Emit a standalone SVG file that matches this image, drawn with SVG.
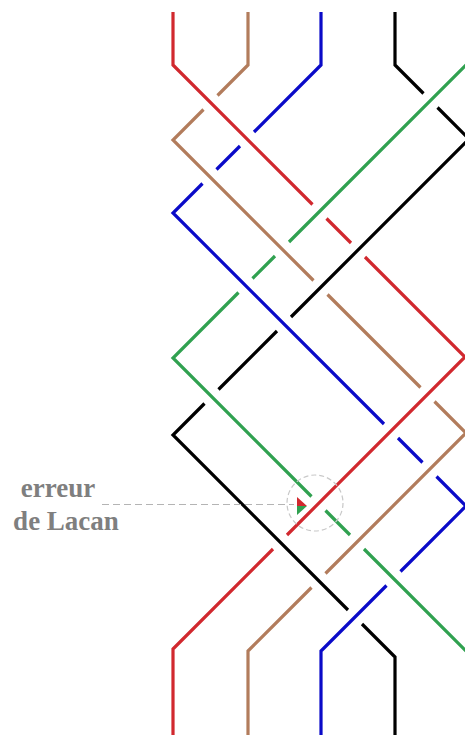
<svg xmlns="http://www.w3.org/2000/svg" width="465" height="735" viewBox="0 0 465 735">
  <style>
    .s { fill: none; stroke-width: 3.2; stroke-linecap: butt; stroke-linejoin: miter; }
    .red { stroke: #d1282e; }
    .brown { stroke: #b27c5c; }
    .blue { stroke: #0a0ac8; }
    .black { stroke: #000000; }
    .green { stroke: #30a150; }
    .lbl { font-family: "Liberation Serif", "Times New Roman", serif; font-weight: bold; font-size: 27px; fill: #7f7f7f; text-anchor: middle; }
    .dash { fill: none; stroke: #b4b4b4; stroke-width: 1.2; stroke-dasharray: 7 4; }
    .ring { fill: none; stroke: #c8c8c8; stroke-width: 1.2; stroke-dasharray: 5 3; }
  </style>
  <g id="strands">
    <path id="strand-red" class="s red" d="M173,12 V65 L312.5,204.5 M326.5,218.5 L351,243 M365,257 L465,357 L287,535 M273,549 L173,649 V735"/>
    <path id="strand-brown" class="s brown" d="M248,12 V65 L217.5,95.5 M203.5,109.5 L173,140 L313.5,280.5 M327.5,294.5 L420.5,387.5 M434.5,401.5 L466,433 L325.5,573.5 M311.5,587.5 L248,651 V735"/>
    <path id="strand-blue" class="s blue" d="M321,12 V65 L254,132 M240,146 L216.5,169.5 M202.5,183.5 L173,213 L384,424 M398,438 L422.5,462.5 M436.5,476.5 L466,506 L400.5,571.5 M386.5,585.5 L321,651 V735"/>
    <path id="strand-black" class="s black" d="M395,12 V65 L423.5,93.5 M437.5,107.5 L469,139 L291,317 M277,331 L218.5,389.5 M204.5,403.5 L173,435 L348,610 M362,624 L395,657 V735"/>
    <path id="strand-green" class="s green" d="M466.8,12 V64.2 L289,242 M275,256 L252.5,278.5 M238.5,292.5 L173,358 L311.5,496.5 M325.5,510.5 L350,535 M364,549 L466.8,651.8 V735"/>
  </g>
  <g id="annotation">
    <circle class="ring" cx="315" cy="503" r="28"/>
    <line class="dash" x1="102" y1="504.5" x2="294" y2="504.5"/>
    <polygon points="297,497 307,506 297,506" fill="#d1282e"/>
    <polygon points="297,506 307,506 297,515" fill="#30a150"/>
    <text class="lbl" x="58" y="497">erreur</text>
    <text class="lbl" x="66" y="530">de Lacan</text>
  </g>
</svg>
